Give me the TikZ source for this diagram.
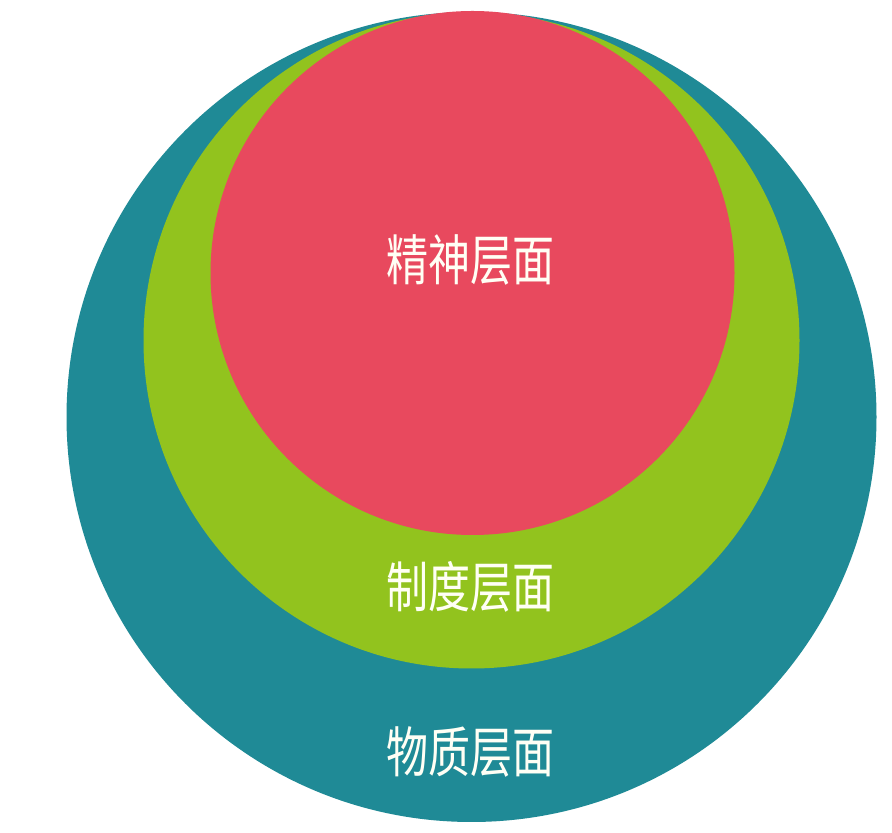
\documentclass[tikz,border=0pt]{standalone}
\usepackage{graphicx}
\usepackage{fontspec}
\newfontfamily\cjk{Noto Sans CJK SC}
\usepackage{tikz}
\usetikzlibrary{positioning}
\definecolor{tealring}{RGB}{31,138,150}
\definecolor{greenring}{RGB}{146,195,30}
\definecolor{redring}{RGB}{232,73,94}
\definecolor{textwhite}{RGB}{255,255,245}
\tikzset{
	x=1pt, y=1pt,
	tier/.style= {
		circle,
		inner sep=0,
		outer sep=0,
		draw=none
	},
	tiertext/.style= {
		textwhite,
		inner sep=0,
		font={\cjk\fontsize{42}{42}\selectfont}
	},
}
\newcommand{\tall}[1]{\scalebox{1}[1.3]{#1}}

\begin{document}
\begin{tikzpicture}
	
	\useasboundingbox[fill=white] (0,0) rectangle (892,833);
	
	\node (material)[tier, fill=tealring, minimum size=810] at (471.5,416) {};
	\node (system)[tier, fill=greenring, minimum size=656] at (471.5,492.5) {};
	\node (spirit)[tier, fill=redring, minimum size=524] at (472.5,560) {};
	
	\node (spirittext)[tiertext] at (470,573) {\tall{精神层面}};
	\node (systemtext)[tiertext] at (470,246) {\tall{制度层面}};
	\node (materialtext)[tiertext] at (470,81) {\tall{物质层面}};
	
\end{tikzpicture}
\end{document}
